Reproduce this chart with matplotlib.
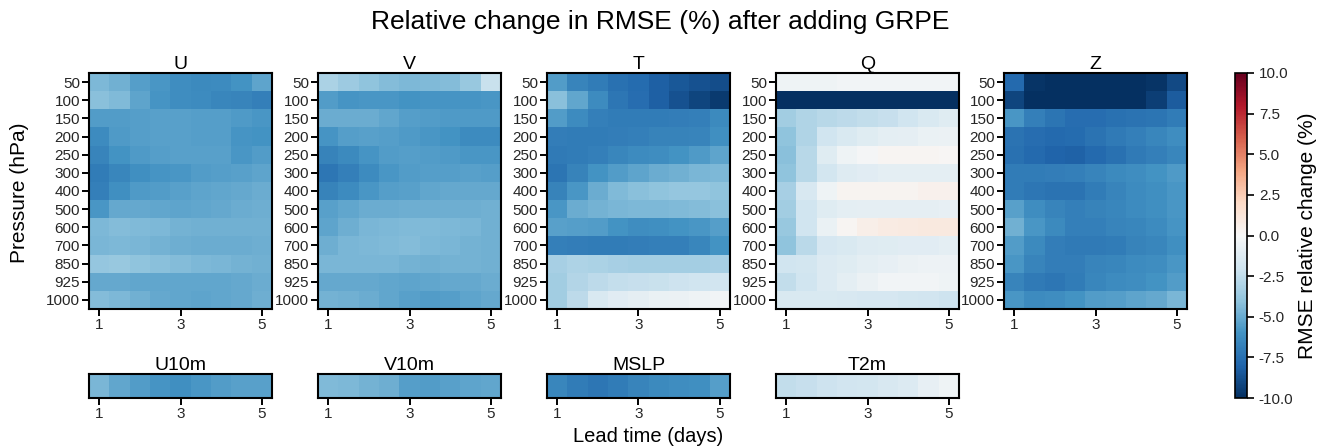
import numpy as np
import matplotlib
matplotlib.use('Agg')
import matplotlib.pyplot as plt

plt.rcParams['font.family'] = ['Liberation Sans', 'DejaVu Sans']

# lead times (days) and pressure levels (hPa)
lead_times = [1, 1.5, 2, 2.5, 3, 3.5, 4, 4.5, 5]
levels = [50, 100, 150, 200, 250, 300, 400, 500, 600, 700, 850, 925, 1000]

# relative change in RMSE (%), rows = levels, cols = lead times
u_vals = [
    [-4.5, -4.8, -5.5, -5.8, -6.2, -6.4, -6.3, -6.0, -5.3],
    [-4.2, -4.4, -5.3, -5.9, -6.2, -6.3, -6.5, -6.6, -6.8],
    [-5.6, -5.6, -5.5, -5.4, -5.4, -5.5, -5.5, -5.7, -5.8],
    [-6.3, -5.7, -5.5, -5.4, -5.4, -5.5, -5.5, -5.9, -6.0],
    [-6.6, -6.0, -5.7, -5.5, -5.4, -5.4, -5.4, -5.8, -5.6],
    [-7.0, -6.5, -6.1, -5.9, -5.8, -5.6, -5.5, -5.4, -5.3],
    [-6.8, -6.1, -5.7, -5.6, -5.4, -5.3, -5.2, -5.1, -5.0],
    [-5.8, -5.1, -5.1, -5.2, -5.3, -5.2, -5.1, -5.0, -4.9],
    [-4.5, -4.3, -4.4, -4.5, -4.7, -4.8, -4.8, -4.8, -4.8],
    [-4.6, -4.5, -4.6, -4.7, -4.9, -5.0, -5.0, -5.0, -4.9],
    [-3.9, -3.8, -4.0, -4.2, -4.3, -4.5, -4.6, -4.7, -4.8],
    [-5.1, -5.1, -5.2, -5.2, -5.2, -5.2, -5.2, -5.1, -5.0],
    [-4.3, -4.5, -4.8, -5.1, -5.2, -5.3, -5.2, -5.1, -4.9],
]
v_vals = [
    [-3.2, -3.6, -4.0, -4.3, -4.5, -4.4, -4.3, -3.8, -2.2],
    [-5.6, -5.9, -5.8, -5.8, -6.0, -5.9, -5.9, -5.9, -5.8],
    [-5.0, -5.0, -5.0, -5.2, -5.5, -5.6, -5.7, -5.7, -5.7],
    [-5.9, -5.5, -5.4, -5.5, -5.7, -5.8, -6.0, -6.3, -6.3],
    [-6.7, -6.4, -5.9, -5.6, -5.5, -5.6, -5.7, -5.8, -5.8],
    [-7.2, -6.8, -6.3, -5.8, -5.6, -5.5, -5.5, -5.4, -5.5],
    [-6.7, -6.3, -5.8, -5.5, -5.4, -5.2, -5.1, -5.1, -5.1],
    [-5.4, -5.2, -5.0, -5.0, -4.9, -4.9, -4.9, -4.9, -4.8],
    [-5.3, -4.9, -4.6, -4.5, -4.4, -4.4, -4.5, -4.6, -4.8],
    [-4.9, -4.6, -4.5, -4.4, -4.3, -4.5, -4.6, -4.7, -4.8],
    [-4.6, -4.6, -4.6, -4.6, -4.7, -4.8, -4.7, -4.7, -4.8],
    [-5.1, -5.1, -5.1, -5.2, -5.3, -5.2, -5.1, -5.1, -5.0],
    [-4.7, -4.8, -5.0, -5.2, -5.4, -5.6, -5.5, -5.3, -5.1],
]
t_vals = [
    [-5.6, -6.6, -7.0, -7.5, -7.7, -8.2, -8.5, -8.7, -8.9],
    [-4.2, -5.2, -6.3, -7.2, -7.6, -8.2, -8.7, -9.2, -9.6],
    [-5.6, -6.3, -6.8, -7.0, -7.0, -7.0, -6.9, -6.8, -6.4],
    [-6.9, -7.0, -7.0, -6.9, -6.8, -6.7, -6.7, -6.6, -6.1],
    [-7.1, -7.0, -6.8, -6.5, -6.3, -6.2, -6.0, -5.7, -5.3],
    [-7.3, -6.7, -6.0, -5.6, -5.3, -5.0, -4.8, -4.6, -4.5],
    [-6.7, -5.8, -5.0, -4.4, -4.2, -4.0, -3.9, -3.9, -4.0],
    [-5.8, -5.0, -4.7, -4.6, -4.5, -4.5, -4.4, -4.3, -4.2],
    [-5.4, -5.5, -5.6, -6.0, -6.2, -6.1, -6.0, -5.8, -5.5],
    [-6.8, -6.9, -7.0, -7.0, -6.9, -6.8, -6.8, -6.5, -6.0],
    [-3.3, -3.1, -3.2, -3.3, -3.4, -3.4, -3.4, -3.4, -3.3],
    [-3.5, -2.9, -2.6, -2.4, -2.3, -2.2, -2.1, -2.0, -1.9],
    [-3.5, -2.6, -1.5, -1.1, -0.9, -0.7, -0.6, -0.4, -0.3],
]
q_vals = [
    [-0.4, -0.4, -0.4, -0.3, -0.3, -0.3, -0.3, -0.3, -0.3],
    [-10.0, -10.0, -10.0, -10.0, -10.0, -10.0, -10.0, -10.0, -10.0],
    [-3.5, -3.0, -2.8, -2.6, -2.5, -2.3, -2.0, -1.5, -1.2],
    [-4.0, -3.0, -2.0, -1.5, -1.2, -1.0, -0.9, -0.7, -0.6],
    [-4.2, -2.8, -1.2, -0.4, -0.1, 0.2, 0.2, 0.2, 0.1],
    [-4.0, -2.8, -1.8, -1.3, -1.1, -1.0, -1.0, -1.0, -1.0],
    [-3.3, -1.6, -0.4, 0.3, 0.3, 0.3, 0.3, 0.4, 0.4],
    [-3.5, -2.0, -1.2, -1.0, -0.9, -0.9, -0.9, -0.9, -0.8],
    [-3.8, -2.0, -0.7, 0.2, 0.6, 0.8, 0.9, 1.0, 1.0],
    [-4.0, -2.7, -1.7, -1.5, -1.3, -1.2, -1.1, -1.1, -1.0],
    [-2.0, -1.8, -1.4, -1.2, -1.0, -0.8, -0.6, -0.5, -0.5],
    [-2.5, -2.0, -1.4, -1.0, -0.6, -0.3, -0.3, -0.3, -0.4],
    [-1.5, -1.5, -1.5, -1.6, -1.7, -1.7, -1.8, -1.9, -2.1],
]
z_vals = [
    [-7.8, -9.8, -10.0, -10.0, -10.0, -10.0, -10.0, -9.8, -9.0],
    [-9.2, -10.0, -10.0, -10.0, -10.0, -10.0, -10.0, -9.4, -8.3],
    [-5.8, -6.8, -7.3, -7.6, -7.6, -7.5, -7.4, -7.3, -7.0],
    [-7.4, -7.6, -7.8, -7.7, -7.4, -7.1, -6.8, -6.5, -6.2],
    [-7.5, -7.8, -8.0, -8.1, -7.8, -7.5, -7.1, -6.8, -6.5],
    [-7.0, -7.0, -6.9, -6.8, -6.6, -6.4, -6.2, -6.0, -5.7],
    [-7.0, -7.2, -7.4, -7.4, -7.0, -6.6, -6.3, -6.1, -5.8],
    [-5.4, -6.2, -6.6, -6.8, -6.7, -6.5, -6.3, -6.1, -5.8],
    [-4.8, -5.8, -6.4, -6.8, -6.8, -6.6, -6.5, -6.3, -5.9],
    [-5.6, -6.4, -6.9, -7.1, -7.1, -7.0, -6.7, -6.5, -6.1],
    [-5.8, -6.6, -6.9, -6.9, -6.6, -6.5, -6.3, -6.2, -5.8],
    [-6.6, -7.1, -7.2, -7.0, -6.5, -6.3, -6.2, -6.0, -5.6],
    [-5.8, -6.3, -6.2, -6.0, -5.6, -5.5, -5.3, -5.1, -4.6],
]

# surface variables
u10m_vals = [-4.6, -5.2, -5.6, -5.9, -6.1, -5.8, -5.6, -5.4, -5.4]
v10m_vals = [-4.4, -4.5, -4.7, -4.9, -5.5, -5.6, -5.4, -5.3, -5.2]
mslp_vals = [-6.5, -7.0, -7.2, -7.0, -6.6, -6.4, -6.2, -6.1, -5.5]
t2m_vals = [-2.5, -2.3, -2.1, -1.9, -1.8, -1.6, -1.4, -0.8, -0.4]

upper_names = ['U', 'V', 'T', 'Q', 'Z']
upper_data = [u_vals, v_vals, t_vals, q_vals, z_vals]
surf_names = ['U10m', 'V10m', 'MSLP', 'T2m']
surf_data = [u10m_vals, v10m_vals, mslp_vals, t2m_vals]

W, H = 1320, 447
fig = plt.figure(figsize=(W / 100, H / 100), dpi=100)

cmap = 'RdBu_r'
vmin, vmax = -10, 10
lefts = [89, 318, 547, 776, 1004]
pw = 183
xt = [lead_times.index(d) for d in (1, 3, 5)]


def style_axes(ax):
    for s in ax.spines.values():
        s.set_linewidth(1.5)
        s.set_color('black')
    ax.tick_params(length=5, width=1.4, labelsize=11, color='black',
                   labelcolor='#262626', pad=1.5)
    ax.set_xticks(xt)
    ax.set_xticklabels(['1', '3', '5'])


# upper-air panels
for i, (name, vals) in enumerate(zip(upper_names, upper_data)):
    ax = fig.add_axes([lefts[i] / W, 1 - 309 / H, pw / W, 236 / H])
    im = ax.imshow(np.array(vals), cmap=cmap, vmin=vmin, vmax=vmax,
                   aspect='auto', interpolation='nearest')
    ax.set_yticks(range(len(levels)))
    ax.set_yticklabels([str(l) for l in levels])
    style_axes(ax)
    ax.set_title(name, fontsize=14, pad=1)

fig.text(20 / W, 1 - 193 / H, 'Pressure (hPa)', rotation=90,
         ha='center', va='center', fontsize=15)

# surface panels
for i, (name, vals) in enumerate(zip(surf_names, surf_data)):
    ax = fig.add_axes([lefts[i] / W, 1 - 398 / H, pw / W, 24 / H])
    ax.imshow(np.array(vals)[None, :], cmap=cmap, vmin=vmin, vmax=vmax,
              aspect='auto', interpolation='nearest')
    ax.set_yticks([])
    style_axes(ax)
    ax.set_title(name, fontsize=14, pad=2)

# colorbar
cax = fig.add_axes([1235 / W, 1 - 398 / H, 12 / W, 325 / H])
cb = fig.colorbar(im, cax=cax, ticks=np.arange(-10, 10.1, 2.5))
cb.ax.set_yticklabels(['%.1f' % t for t in np.arange(-10, 10.1, 2.5)])
cb.ax.tick_params(length=5, width=1.2, labelsize=11, labelcolor='#262626')
cb.outline.set_linewidth(1.2)
cb.set_label('RMSE relative change (%)', fontsize=15, labelpad=3)

fig.text(660 / W, 1 - 22 / H, 'Relative change in RMSE (%) after adding GRPE',
         ha='center', va='center', fontsize=19)
fig.text(648 / W, 1 - 436 / H, 'Lead time (days)', ha='center', va='center',
         fontsize=14.5)

plt.savefig('out.png', dpi=100)
